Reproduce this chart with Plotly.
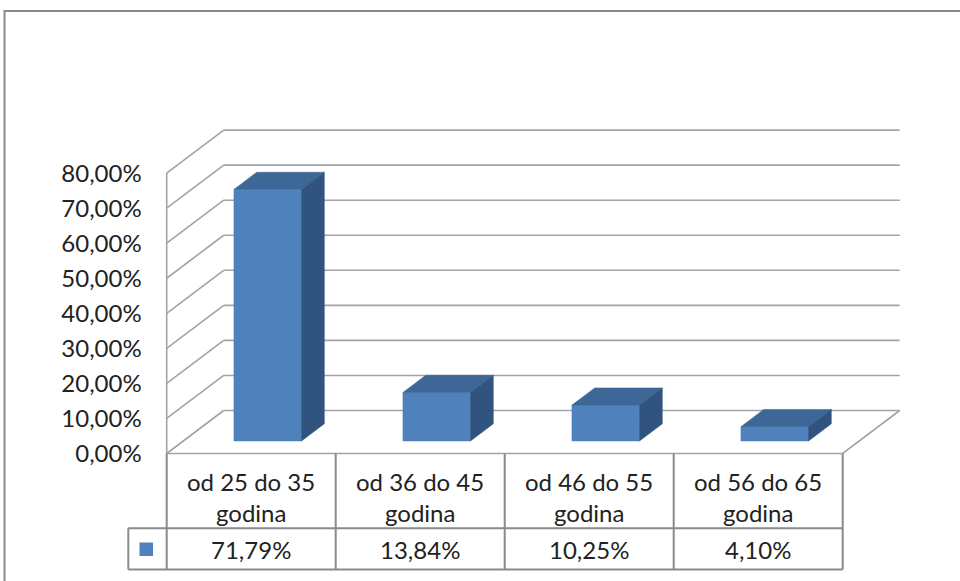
import plotly.graph_objects as go

# ---- data -------------------------------------------------------------
cat_line1 = ["od 25 do 35", "od 36 do 45", "od 46 do 55", "od 56 do 65"]
cat_line2 = ["godina", "godina", "godina", "godina"]
shares = [0.7179, 0.1384, 0.1025, 0.0410]
y_ticks = [0.0, 0.1, 0.2, 0.3, 0.4, 0.5, 0.6, 0.7, 0.8]

# ---- styling / geometry ----------------------------------------------
W, H = 960, 581
FONT = "Lato"
TEXT = "#222222"
GRID = "#a3a3a3"
TABLE = "#8a8a8a"
FRONT = "#4f81bd"
TOP = "#3d6797"
SIDE = "#30547f"

# pixel placement of the plot floor (front-left corner) and scale
X0_PX, Y0_PX = 166.7, 453.5
CAT_PX = 169.0          # width of one category on the front plane
UNIT_PX = 350.5         # pixels for 100 %

# oblique depth vector (data units) and bar depth band
DX, DY = 57 / CAT_PX, 43 / UNIT_PX
F0, F1 = 0.29, 0.69
BAR_W = 0.40
N = len(shares)
Y_MAX = max(y_ticks)

x_range = [-X0_PX / CAT_PX, (W - X0_PX) / CAT_PX]
y_range = [-(H - Y0_PX) / UNIT_PX, Y0_PX / UNIT_PX]


def py(px):
    """vertical pixel -> y data value"""
    return (Y0_PX - px) / UNIT_PX


fig = go.Figure()

# ---- walls and floor --------------------------------------------------
gx, gy = [], []
for v in y_ticks:
    # back wall line
    gx += [DX, N + DX, None]
    gy += [v + DY, v + DY, None]
    # left wall diagonal
    gx += [0, DX, None]
    gy += [v, v + DY, None]
# left wall front edge
gx += [0, 0, None]
gy += [0, Y_MAX, None]
# floor front and right edges
gx += [0, N, N + DX, None]
gy += [0, 0, DY, None]
fig.add_trace(go.Scatter(x=gx, y=gy, mode="lines",
                         line=dict(color=GRID, width=1.6),
                         hoverinfo="skip", showlegend=False))

# ---- 3D columns -------------------------------------------------------
for i, v in enumerate(shares):
    xl = i + 0.5 - BAR_W / 2 + F0 * DX
    xr = i + 0.5 + BAR_W / 2 + F0 * DX
    yb = F0 * DY
    yt = v + F0 * DY
    ddx, ddy = (F1 - F0) * DX, (F1 - F0) * DY
    faces = [
        ([xl, xr, xr, xl, xl], [yb, yb, yt, yt, yb], FRONT),
        ([xl, xr, xr + ddx, xl + ddx, xl], [yt, yt, yt + ddy, yt + ddy, yt], TOP),
        ([xr, xr + ddx, xr + ddx, xr, xr], [yb, yb + ddy, yt + ddy, yt, yb], SIDE),
    ]
    for fx, fy, col in faces:
        fig.add_trace(go.Scatter(x=fx, y=fy, mode="lines", fill="toself",
                                 fillcolor=col, line=dict(color=col, width=0.5),
                                 hoverinfo="skip", showlegend=False))

# ---- data table -------------------------------------------------------
row_mid = py(528.3)
row_bot = py(569.5)
key_left = (128.3 - X0_PX) / CAT_PX
tx, ty = [], []
tx += [key_left, N, None]
ty += [row_mid, row_mid, None]
tx += [key_left, N, None]
ty += [row_bot, row_bot, None]
tx += [key_left, key_left, None]
ty += [row_mid, row_bot, None]
for k in range(N + 1):
    tx += [k, k, None]
    ty += [0, row_bot, None]
fig.add_trace(go.Scatter(x=tx, y=ty, mode="lines",
                         line=dict(color=TABLE, width=2),
                         hoverinfo="skip", showlegend=False))

# legend key square
fig.add_shape(type="rect", xref="x", yref="y",
              x0=(139.5 - X0_PX) / CAT_PX, x1=(153 - X0_PX) / CAT_PX,
              y0=py(556), y1=py(542.5),
              fillcolor=FRONT, line=dict(width=0))

tfont = dict(family=FONT, size=24, color=TEXT)
for i in range(N):
    fig.add_annotation(x=i + 0.5, y=py(481), text=cat_line1[i],
                       showarrow=False, font=tfont, xanchor="center", yanchor="middle")
    fig.add_annotation(x=i + 0.5, y=py(512), text=cat_line2[i],
                       showarrow=False, font=tfont, xanchor="center", yanchor="middle")
    label = f"{shares[i] * 100:.2f}%".replace(".", ",")
    fig.add_annotation(x=i + 0.5, y=py(549.5), text=label,
                       showarrow=False, font=tfont, xanchor="center", yanchor="middle")

# ---- chart border -----------------------------------------------------
fig.add_shape(type="rect", xref="paper", yref="paper",
              x0=4.5 / W, x1=1.05, y0=-0.05, y1=1 - 11 / H,
              line=dict(color="#8a8a8a", width=2), fillcolor="rgba(0,0,0,0)")

fig.update_layout(
    width=W, height=H,
    margin=dict(l=0, r=0, t=0, b=0),
    paper_bgcolor="white", plot_bgcolor="white",
    separators=",.",
    showlegend=False,
    xaxis=dict(range=x_range, visible=False, fixedrange=True),
    yaxis=dict(range=y_range, anchor="free", position=X0_PX / W,
               tickvals=y_ticks, tickformat=".2%", ticks="",
               ticklabelstandoff=25,
               showgrid=False, zeroline=False, showline=False,
               tickfont=dict(family=FONT, size=24, color=TEXT),
               fixedrange=True),
)

fig.write_html("out.html")
